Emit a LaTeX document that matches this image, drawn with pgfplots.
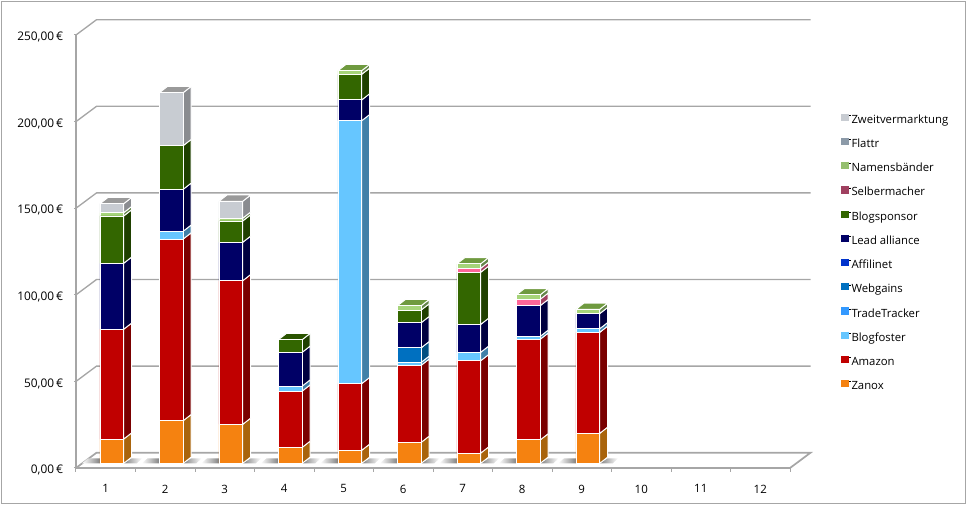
\documentclass[border=0pt]{standalone}
\usepackage{fontspec}
\setmainfont{Open Sans}
\usepackage{pgfplots}
\usepackage{pgfplotstable}
\pgfplotsset{compat=1.18}

% segment values per month, one column per source
\pgfplotstableread{
Monat Zanox Amazon Blogfoster TradeTracker Webgains Affilinet Lead Blogsponsor Selbermacher Namen Flattr Zweit
1 14.0 63.4 0 0 0 0 38.1 27.3 0 1.9 0 5.2
2 24.6 104.9 4.5 0 0 0 24.2 25.2 0 0 0 30.6
3 22.5 82.9 0 0 0 0 22.2 12.3 0 1.6 0 9.8
4 9.2 32.5 2.9 0 0 0 19.5 7.3 0 0 0 0
5 7.5 38.5 151.8 0 0 0 12.0 14.8 0 2.1 0 0
6 12.1 44.5 1.7 0 8.4 0 14.5 7.3 0 2.5 0 0
7 5.9 53.3 4.9 0 0 0 16.1 30.1 2.3 2.6 0 0
8 13.5 58.1 1.7 0 0 0 17.7 0 3.7 2.6 0 0
9 17.3 58.3 2.1 0 0 0 8.7 0 0 2.5 0 0
}\data

% front, side, top
\definecolor{Zanox}{HTML}{F58210}\definecolor{ZanoxS}{HTML}{A9640C}\definecolor{ZanoxT}{HTML}{C46A0C}
\definecolor{Amazon}{HTML}{C00000}\definecolor{AmazonS}{HTML}{7A0000}\definecolor{AmazonT}{HTML}{900000}
\definecolor{Blogfoster}{HTML}{66C6FF}\definecolor{BlogfosterS}{HTML}{4080A8}\definecolor{BlogfosterT}{HTML}{50A0D0}
\definecolor{TradeTracker}{HTML}{3399FF}\definecolor{TradeTrackerS}{HTML}{2060A0}\definecolor{TradeTrackerT}{HTML}{2878C8}
\definecolor{Webgains}{HTML}{0070C0}\definecolor{WebgainsS}{HTML}{004F80}\definecolor{WebgainsT}{HTML}{005C9C}
\definecolor{Affilinet}{HTML}{0033CC}\definecolor{AffilinetS}{HTML}{002080}\definecolor{AffilinetT}{HTML}{0028A0}
\definecolor{Lead}{HTML}{000066}\definecolor{LeadS}{HTML}{000040}\definecolor{LeadT}{HTML}{000050}
\definecolor{Blogsponsor}{HTML}{336600}\definecolor{BlogsponsorS}{HTML}{1F4000}\definecolor{BlogsponsorT}{HTML}{2A5400}
\definecolor{Selbermacher}{HTML}{FF6699}\definecolor{SelbermacherS}{HTML}{A04060}\definecolor{SelbermacherT}{HTML}{C85078}
\definecolor{Namen}{HTML}{A6D47A}\definecolor{NamenS}{HTML}{64864A}\definecolor{NamenT}{HTML}{6F9A3F}
\definecolor{Flattr}{HTML}{8C9AA8}\definecolor{FlattrS}{HTML}{5C6670}\definecolor{FlattrT}{HTML}{707C88}
\definecolor{Zweit}{HTML}{C8CCD2}\definecolor{ZweitS}{HTML}{8A8C90}\definecolor{ZweitT}{HTML}{9A9A9A}
\definecolor{wall}{HTML}{A6A6A6}
\definecolor{shadow}{HTML}{808080}

\pgfplotsset{
  geom/.style={scale only axis,width=535.5pt,height=324.75pt,
    xmin=0.5,xmax=12.5,ymin=0,ymax=250,clip=false},
  legsq/.style={legend image code/.code={\path (0pt,0pt) -- (7.5pt,0pt);\fill[##1,draw=none] (0pt,-4.2pt) rectangle (5.6pt,1.2pt);}},
  seg/.style={fill=#1,draw=white,line width=0.7pt,forget plot},
}

\begin{document}
\begin{tikzpicture}
\path[use as bounding box] (-57pt,-28.5pt) rectangle (668.25pt,351pt);
\draw[wall,line width=0.75pt] (-55.9pt,-27pt) rectangle (667.2pt,349.8pt);

% walls, floor, side and top faces
\begin{axis}[geom,
  axis x line*=bottom,axis y line*=left,
  axis line style={wall,line width=0.9pt,-},
  tick style={wall,line width=0.75pt},
  major tick length=1.5pt,minor tick length=3pt,
  tick align=outside,
  xtick={1,...,12},
  minor xtick={0.5,1.5,...,12.5},
  x tick style={draw=none},
  minor x tick style={wall,draw=wall},
  ytick={0,50,...,250},
  xticklabel style={font=\fontsize{8.6pt}{10pt}\selectfont,yshift=-7.5pt},
  yticklabel style={font=\fontsize{8.9pt}{10pt}\selectfont,xshift=-4.6pt,yshift=-1.6pt},
  /pgf/number format/.cd,fixed,fixed zerofill,precision=2,use comma,assume math mode=true,
  /pgfplots/.cd,
  yticklabel={\pgfmathprintnumber{\tick}\,€},
  xticklabel={\pgfmathprintnumber[precision=0,fixed zerofill=false]{\tick}},
]
\addplot[wall,line width=1.3pt,forget plot] coordinates {(0.5,0) (0.845,8.83) (12.845,8.83) (12.5,0)};
\addplot[wall,line width=1pt,forget plot] coordinates {(0.5,50) (0.845,58.83) (12.845,58.83)};
\addplot[wall,line width=1pt,forget plot] coordinates {(0.5,100) (0.845,108.83) (12.845,108.83)};
\addplot[wall,line width=1pt,forget plot] coordinates {(0.5,150) (0.845,158.83) (12.845,158.83)};
\addplot[wall,line width=1pt,forget plot] coordinates {(0.5,200) (0.845,208.83) (12.845,208.83)};
\addplot[wall,line width=1pt,forget plot] coordinates {(0.5,250) (0.845,258.83) (12.845,258.83)};

\pgfplotsforeachungrouped \r in {0,...,8}{
  \pgfmathsetmacro{\xL}{\r+1-0.0965}
  \pgfmathsetmacro{\xR}{\r+1+0.3015}
  \pgfmathsetmacro{\xD}{\xR+0.134}
  \pgfmathsetmacro{\xE}{\xL+0.134}
  % floor shadow either side of the bar
  \pgfmathsetmacro{\sa}{\xL-0.30}
  \pgfmathsetmacro{\sb}{\xL-0.20}
  \pgfmathsetmacro{\sc}{\xR+0.22}
  \pgfmathsetmacro{\sd}{\xR+0.31}
  \edef\temp{\noexpand\addplot[draw=none,left color=white,right color=shadow,forget plot] coordinates {(\sa,2.7) (\xL,2.7) (\xL,5.6) (\sb,5.6)} -- cycle;}\temp
  \edef\temp{\noexpand\addplot[draw=none,left color=shadow,right color=white,forget plot] coordinates {(\xR,2.7) (\sc,2.7) (\sd,5.6) (\xD,5.6)} -- cycle;}\temp
  \def\cum{2.7}
  \def\last{Zanox}
  \pgfplotsforeachungrouped \c in {Zanox,Amazon,Blogfoster,TradeTracker,Webgains,Affilinet,Lead,Blogsponsor,Selbermacher,Namen,Flattr,Zweit}{
    \pgfplotstablegetelem{\r}{\c}\of\data
    \let\val\pgfplotsretval
    \ifdim\val pt>0pt
      \pgfmathsetmacro{\yA}{\cum}
      \pgfmathsetmacro{\yB}{\cum+\val}
      \pgfmathsetmacro{\yC}{\yA+3.6}
      \pgfmathsetmacro{\yD}{\yB+3.6}
      \edef\temp{\noexpand\addplot[fill=\c S,draw=white,line width=0.7pt,forget plot] coordinates {(\xR,\yA) (\xR,\yB) (\xD,\yD) (\xD,\yC)} -- cycle;}\temp
      \let\cum\yB
      \let\last\c
    \fi
  }
  \pgfmathsetmacro{\yT}{\cum+3.6}
  \edef\temp{\noexpand\addplot[fill=\last T,draw=white,line width=0.7pt,forget plot] coordinates {(\xL,\cum) (\xR,\cum) (\xD,\yT) (\xE,\yT)} -- cycle;}\temp
}
\end{axis}

% front faces
\begin{axis}[geom,hide axis,
  ybar stacked,bar width=17.8pt,
  every axis plot/.append style={xshift=4.58pt,yshift=3.52pt},
  legend cell align=left,
  legend style={draw=none,fill=none,at={(1.071,0.819)},anchor=north west,
    font=\fontsize{8.5pt}{10pt}\selectfont,row sep=8.75pt,inner sep=0pt,
    nodes={inner sep=0pt,text height=7.2pt,text depth=2.2pt}},
]
\addplot[seg=Zanox] table[x=Monat,y=Zanox] {\data};
\addplot[seg=Amazon] table[x=Monat,y=Amazon] {\data};
\addplot[seg=Blogfoster] table[x=Monat,y=Blogfoster] {\data};
\addplot[seg=TradeTracker] table[x=Monat,y=TradeTracker] {\data};
\addplot[seg=Webgains] table[x=Monat,y=Webgains] {\data};
\addplot[seg=Affilinet] table[x=Monat,y=Affilinet] {\data};
\addplot[seg=Lead] table[x=Monat,y=Lead] {\data};
\addplot[seg=Blogsponsor] table[x=Monat,y=Blogsponsor] {\data};
\addplot[seg=Selbermacher] table[x=Monat,y=Selbermacher] {\data};
\addplot[seg=Namen] table[x=Monat,y=Namen] {\data};
\addplot[seg=Flattr] table[x=Monat,y=Flattr] {\data};
\addplot[seg=Zweit] table[x=Monat,y=Zweit] {\data};

\addlegendimage{legsq,fill=Zweit}\addlegendentry{Zweitvermarktung}
\addlegendimage{legsq,fill=Flattr}\addlegendentry{Flattr}
\addlegendimage{legsq,fill=Namen!90!black}\addlegendentry{Namensbänder}
\addlegendimage{legsq,fill=SelbermacherS}\addlegendentry{Selbermacher}
\addlegendimage{legsq,fill=Blogsponsor}\addlegendentry{Blogsponsor}
\addlegendimage{legsq,fill=Lead}\addlegendentry{Lead alliance}
\addlegendimage{legsq,fill=Affilinet}\addlegendentry{Affilinet}
\addlegendimage{legsq,fill=Webgains}\addlegendentry{Webgains}
\addlegendimage{legsq,fill=TradeTracker}\addlegendentry{TradeTracker}
\addlegendimage{legsq,fill=Blogfoster}\addlegendentry{Blogfoster}
\addlegendimage{legsq,fill=Amazon}\addlegendentry{Amazon}
\addlegendimage{legsq,fill=Zanox}\addlegendentry{Zanox}
\end{axis}
\end{tikzpicture}
\end{document}
